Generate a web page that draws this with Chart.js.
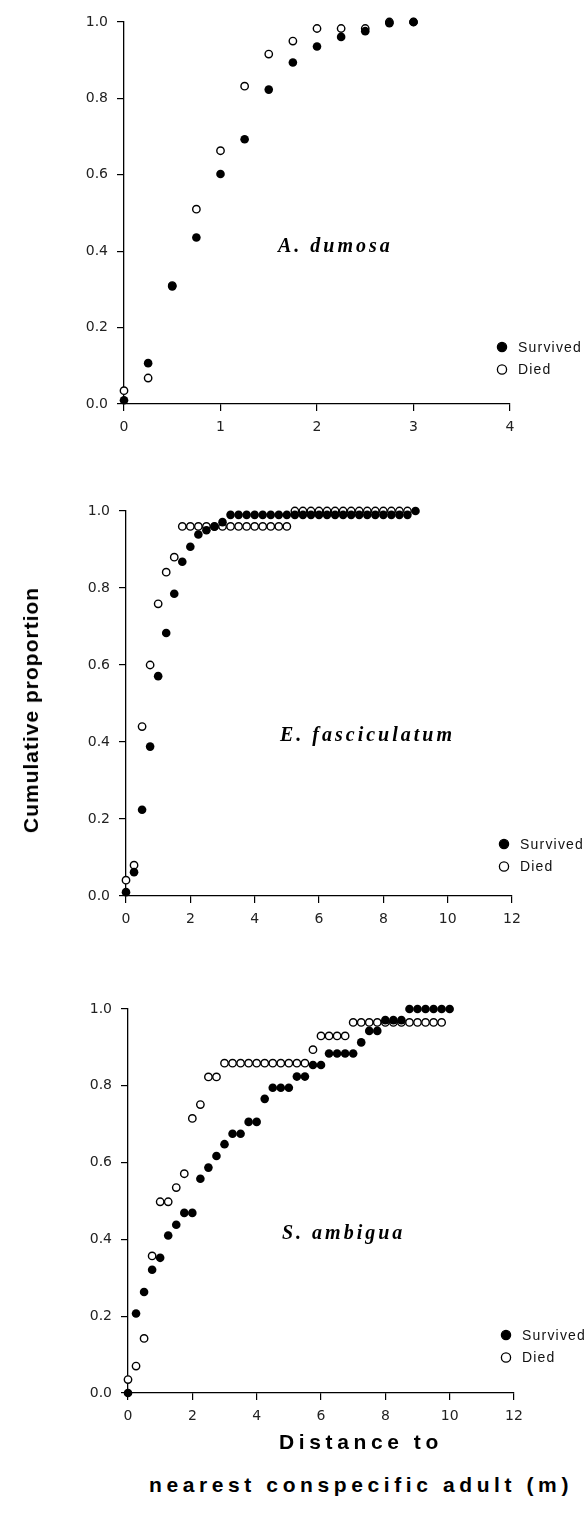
<!DOCTYPE html>
<html>
<head>
<meta charset="utf-8">
<script src="https://cdn.jsdelivr.net/npm/chart.js@4.4.1/dist/chart.umd.min.js"></script>
<style>
  body { margin: 0; background: #fff; }
  #page { position: relative; width: 587px; height: 1513px; overflow: hidden; background: #fff; }
  #page canvas { position: absolute; left: 0; }
  .ytitle {
    position: absolute; left: 31px; top: 710px;
    transform: translate(-50%, -50%) rotate(-90deg);
    font: bold 21px "Liberation Sans", Arial, sans-serif;
    letter-spacing: 1px; white-space: nowrap; color: #000;
  }
  .xtitle {
    position: absolute; left: 361px;
    transform: translate(-50%, -50%);
    font: bold 21px "Liberation Sans", Arial, sans-serif;
    letter-spacing: 4.6px; white-space: nowrap; color: #000;
  }
</style>
</head>
<body>
<div id="page">
  <canvas id="chart1"></canvas>
  <canvas id="chart2"></canvas>
  <canvas id="chart3"></canvas>
  <div class="ytitle">Cumulative proportion</div>
  <div class="xtitle" style="top:1442px">Distance to</div>
  <div class="xtitle" style="top:1485px">nearest conspecific adult (m)</div>
</div>
<script>
// A. dumosa
const dumosaDist = [0, 0.25, 0.5, 0.75, 1, 1.25, 1.5, 1.75, 2, 2.25, 2.5, 2.75, 3];
const dumosaSurvived = [0.01, 0.107, 0.308, 0.436, 0.602, 0.693, 0.823, 0.894, 0.936, 0.961, 0.976, 0.997, 1.0];
const dumosaDied = [0.035, 0.068, 0.31, 0.51, 0.663, 0.832, 0.916, 0.95, 0.983, 0.983, 0.983, 1.0, 1.0];

// E. fasciculatum
const fascDistSurvived = [0, 0.25, 0.5, 0.75, 1, 1.25, 1.5, 1.75, 2, 2.25, 2.5, 2.75, 3,
  3.25, 3.5, 3.75, 4, 4.25, 4.5, 4.75, 5, 5.25, 5.5, 5.75, 6,
  6.25, 6.5, 6.75, 7, 7.25, 7.5, 7.75, 8, 8.25, 8.5, 8.75, 9];
const fascSurvived = [0.01, 0.062, 0.224, 0.388, 0.571, 0.683, 0.785, 0.868, 0.907, 0.939, 0.95, 0.959, 0.971,
  0.99, 0.99, 0.99, 0.99, 0.99, 0.99, 0.99, 0.99, 0.99, 0.99, 0.99, 0.99,
  0.99, 0.99, 0.99, 0.99, 0.99, 0.99, 0.99, 0.99, 0.99, 0.99, 0.99, 1.0];
const fascDistDied = [0, 0.25, 0.5, 0.75, 1, 1.25, 1.5,
  1.75, 2, 2.25, 2.5, 2.75, 3, 3.25, 3.5, 3.75, 4, 4.25, 4.5, 4.75, 5,
  5.25, 5.5, 5.75, 6, 6.25, 6.5, 6.75, 7, 7.25, 7.5, 7.75, 8, 8.25, 8.5, 8.75];
const fascDied = [0.041, 0.08, 0.44, 0.6, 0.759, 0.841, 0.88,
  0.96, 0.96, 0.96, 0.96, 0.96, 0.96, 0.96, 0.96, 0.96, 0.96, 0.96, 0.96, 0.96, 0.96,
  1.0, 1.0, 1.0, 1.0, 1.0, 1.0, 1.0, 1.0, 1.0, 1.0, 1.0, 1.0, 1.0, 1.0, 1.0];

// S. ambigua
const ambDistSurvived = [0, 0.25, 0.5, 0.75, 1, 1.25, 1.5, 1.75, 2, 2.25, 2.5, 2.75, 3,
  3.25, 3.5, 3.75, 4, 4.25, 4.5, 4.75, 5, 5.25, 5.5, 5.75, 6,
  6.25, 6.5, 6.75, 7, 7.25, 7.5, 7.75, 8, 8.25, 8.5, 8.75, 9, 9.25, 9.5, 9.75, 10];
const ambSurvived = [0, 0.207, 0.263, 0.321, 0.352, 0.41, 0.438, 0.469, 0.469, 0.558, 0.587, 0.617, 0.648,
  0.675, 0.675, 0.706, 0.706, 0.766, 0.795, 0.795, 0.795, 0.824, 0.824, 0.854, 0.854,
  0.884, 0.884, 0.884, 0.884, 0.913, 0.943, 0.943, 0.971, 0.971, 0.971, 1.0, 1.0, 1.0, 1.0, 1.0, 1.0];
const ambDistDied = [0, 0.25, 0.5, 0.75, 1, 1.25, 1.5, 1.75, 2, 2.25, 2.5, 2.75,
  3, 3.25, 3.5, 3.75, 4, 4.25, 4.5, 4.75, 5, 5.25, 5.5,
  5.75, 6, 6.25, 6.5, 6.75,
  7, 7.25, 7.5, 7.75, 8, 8.25, 8.5, 8.75, 9, 9.25, 9.5, 9.75];
const ambDied = [0.035, 0.07, 0.142, 0.357, 0.498, 0.498, 0.535, 0.571, 0.715, 0.751, 0.823, 0.823,
  0.859, 0.859, 0.859, 0.859, 0.859, 0.859, 0.859, 0.859, 0.859, 0.859, 0.859,
  0.894, 0.93, 0.93, 0.93, 0.93,
  0.965, 0.965, 0.965, 0.965, 0.965, 0.965, 0.965, 0.965, 0.965, 0.965, 0.965, 0.965];

const speciesNames = ['A. dumosa', 'E. fasciculatum', 'S. ambigua'];
const seriesNames = ['Survived', 'Died'];
const xMax = [4, 12, 12];
const xStep = [1, 2, 2];

// plot boxes in page pixels
const boxes = [
  { top: 22, bottom: 404, left: 124, right: 510, legendY: 57 },
  { top: 511, bottom: 896, left: 126, right: 512, legendY: 52 },
  { top: 1009, bottom: 1393, left: 128, right: 514, legendY: 58 }
];

const toPoints = (xs, ys) => xs.map((x, i) => ({ x: x, y: ys[i] }));

const panels = [
  { survived: toPoints(dumosaDist, dumosaSurvived), died: toPoints(dumosaDist, dumosaDied) },
  { survived: toPoints(fascDistSurvived, fascSurvived), died: toPoints(fascDistDied, fascDied) },
  { survived: toPoints(ambDistSurvived, ambSurvived), died: toPoints(ambDistDied, ambDied) }
];

// species name and the little legend inside each panel
const panelText = {
  id: 'panelText',
  afterDatasetsDraw(chart, args, opts) {
    const { ctx, chartArea: a } = chart;
    ctx.save();
    ctx.textBaseline = 'middle';
    ctx.textAlign = 'left';
    ctx.fillStyle = '#000';
    ctx.font = 'italic bold 20px "Liberation Serif", "Times New Roman", serif';
    ctx.letterSpacing = '3px';
    ctx.fillText(opts.name, a.left + 154, a.top + 225);

    ctx.font = '14px "Liberation Sans", Arial, sans-serif';
    ctx.letterSpacing = '1.2px';
    chart.data.datasets.forEach((ds, i) => {
      const y = a.bottom - opts.legendY + i * 22.5;
      const x = a.right - 8;
      ctx.beginPath();
      ctx.arc(x, y, 4.6, 0, Math.PI * 2);
      ctx.fillStyle = ds.backgroundColor;
      ctx.fill();
      ctx.lineWidth = 1.3;
      ctx.strokeStyle = '#000';
      ctx.stroke();
      ctx.fillStyle = '#111';
      ctx.fillText(ds.label, a.right + 8, y + 1);
    });
    ctx.restore();
  }
};

const tickFont = { family: '"DejaVu Sans", "Liberation Sans", sans-serif', size: 14 };

panels.forEach((p, i) => {
  const b = boxes[i];
  const canvas = document.getElementById('chart' + (i + 1));
  const h = (b.bottom - b.top) + 22 + 50;
  canvas.width = 587;
  canvas.height = h;
  canvas.style.top = (b.top - 22) + 'px';

  new Chart(canvas, {
    type: 'scatter',
    data: {
      datasets: [{
        label: seriesNames[0],
        data: p.survived,
        backgroundColor: '#000',
        borderColor: '#000',
        borderWidth: 0,
        pointRadius: 4.3,
        clip: false
      }, {
        label: seriesNames[1],
        data: p.died,
        backgroundColor: '#fff',
        borderColor: '#000',
        borderWidth: 1.4,
        pointRadius: 3.7,
        clip: false
      }]
    },
    options: {
      responsive: false,
      devicePixelRatio: 1,
      animation: false,
      events: [],
      layout: { padding: { top: 22, left: 0, right: 587 - b.right, bottom: 0 } },
      plugins: {
        legend: { display: false },
        tooltip: { enabled: false },
        panelText: { name: speciesNames[i], legendY: b.legendY }
      },
      scales: {
        x: {
          type: 'linear',
          min: 0,
          max: xMax[i],
          afterFit: s => { s.height = 50; },
          ticks: { stepSize: xStep[i], color: '#222', font: tickFont, padding: 8 },
          grid: { drawOnChartArea: false, drawTicks: true, tickLength: 7, color: '#000', lineWidth: 1.2 },
          border: { display: true, color: '#000', width: 1.3 }
        },
        y: {
          min: 0,
          max: 1,
          afterFit: s => { s.width = b.left; },
          ticks: {
            stepSize: 0.2, color: '#222', font: tickFont, padding: 9,
            callback: v => v.toFixed(1)
          },
          grid: { drawOnChartArea: false, drawTicks: true, tickLength: 7, color: '#000', lineWidth: 1.2 },
          border: { display: true, color: '#000', width: 1.3 }
        }
      }
    },
    plugins: [panelText]
  });
});
</script>
</body>
</html>
